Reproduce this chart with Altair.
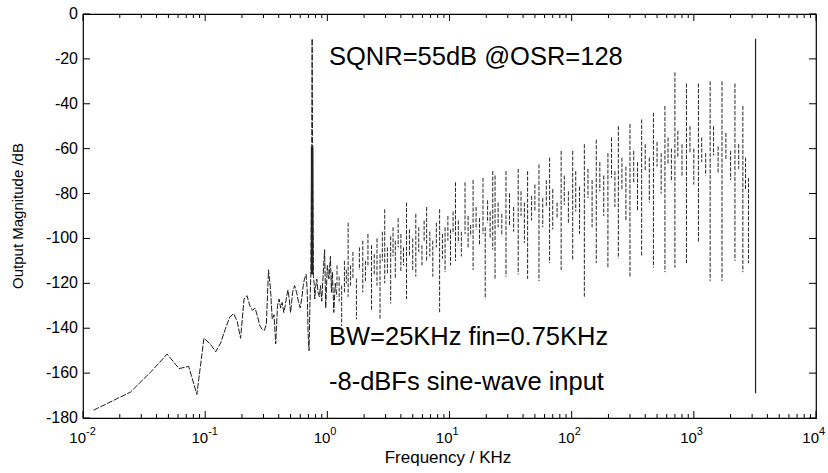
import altair as alt
import pandas as pd

# ---- low-frequency part of the spectrum (line) ----
low_freq = [0.0122, 0.0244, 0.0366, 0.0488, 0.0611, 0.0733, 0.0855, 0.0977, 0.110, 0.122,
            0.134, 0.147, 0.159, 0.171, 0.183, 0.195, 0.208, 0.220, 0.232, 0.244,
            0.256, 0.269, 0.281, 0.293, 0.305, 0.317, 0.330, 0.342, 0.354, 0.366,
            0.378, 0.391, 0.403, 0.415, 0.427, 0.440, 0.452, 0.464, 0.476, 0.488,
            0.500, 0.52, 0.54, 0.56, 0.58, 0.60, 0.62, 0.635, 0.65, 0.67,
            0.684, 0.696, 0.708, 0.72, 0.733, 0.745, 0.751, 0.757, 0.769,
            0.78, 0.79, 0.80, 0.82, 0.84, 0.86, 0.88, 0.90, 0.92, 0.95,
            0.97, 1.0, 1.03, 1.06, 1.08, 1.1, 1.13, 1.16, 1.2]
low_mag = [-176.5, -168.5, -159, -151.5, -158, -157, -169.5, -144.5, -147, -150.5,
           -146.5, -140, -135, -133.5, -137, -144.5, -127, -125.5, -130, -132,
           -131, -135, -139, -140.5, -141, -138, -114, -122, -136, -134,
           -147, -130, -127, -131, -128.5, -133, -130, -126, -123, -127,
           -133, -124, -121, -124, -128, -131, -126, -121, -118, -116,
           -123, -142, -150, -130, -116, -59, -11, -59, -117,
           -120, -127, -122, -118, -124, -126, -121, -128, -118, -105,
           -131, -112, -118, -108, -124, -115, -133, -120, -126]

# leakage skirt around the 0.75 kHz tone (drawn heavier)
tone_freq = [0.751]
tone_top = [-59]
tone_bottom = [-116]

# ---- shaped-noise region (vertical strokes: top / bottom of each) ----
stroke_freq = [1.2, 1.25, 1.31, 1.38, 1.43, 1.48, 1.55, 1.62, 1.73, 1.83,
               1.95, 2.05, 2.15, 2.3, 2.42, 2.55, 2.7, 2.82, 2.95, 3.1,
               3.3, 3.45, 3.6, 3.8, 4.0, 4.2, 4.45, 4.7, 5.0, 5.3,
               5.6, 5.95, 6.2, 6.5, 6.9, 7.3, 7.8, 8.3, 8.75, 9.2,
               9.7, 10.2, 10.7, 11.2, 11.8, 12.5, 13.4, 14.2, 14.9, 15.6,
               16.5, 17.6, 18.8, 19.6, 20.5, 21.5, 22.6, 23.6, 25, 26.8,
               29, 31, 33.5, 36.5, 38.5, 41, 43.6, 47, 50, 54,
               58, 62, 66, 70, 76, 82, 87, 94, 102, 108,
               116, 127, 136, 147, 159, 170, 183, 198, 212, 226,
               241, 258, 278, 300, 322, 346, 374, 400, 432, 467,
               500, 540, 580, 615, 655, 700, 740, 800, 870, 930,
               1000, 1090, 1160, 1250, 1360, 1450, 1580, 1700, 1830, 2000,
               2170, 2330, 2520, 2650, 2800]
stroke_top = [-112, -117, -121, -110, -114, -93, -112, -106, -118, -104,
              -101, -110, -98, -103, -107, -100, -107, -97, -87, -104,
              -99, -95, -101, -91, -98, -104, -84, -96, -100, -89,
              -95, -103, -92, -86, -97, -101, -93, -87, -98, -95,
              -90, -96, -88, -75, -92, -97, -75, -90, -94, -74,
              -86, -91, -73, -95, -83, -88, -70, -72, -84, -89,
              -70, -80, -86, -69, -79, -84, -70, -81, -76, -67,
              -82, -74, -64, -78, -84, -61, -72, -79, -61, -70,
              -77, -58, -69, -74, -56, -66, -72, -62, -55, -70,
              -50, -64, -68, -49, -61, -66, -47, -58, -64, -44,
              -57, -62, -41, -55, -60, -26, -52, -58, -31, -50,
              -60, -31, -55, -62, -30, -50, -59, -30, -53, -61,
              -31, -58, -41, -64, -73]
stroke_bottom = [-122, -128, -139, -124, -120, -126, -121, -118, -136, -114,
                 -124, -119, -112, -132, -116, -121, -136, -110, -120, -116,
                 -129, -108, -118, -104, -115, -112, -127, -108, -114, -117,
                 -106, -112, -101, -110, -108, -117, -104, -133, -109, -115,
                 -101, -112, -98, -110, -102, -108, -98, -104, -99, -114,
                 -96, -103, -98, -127, -93, -100, -105, -118, -95, -99,
                 -117, -94, -97, -116, -90, -102, -118, -92, -88, -119,
                 -95, -86, -111, -96, -91, -114, -85, -93, -110, -88,
                 -98, -126, -82, -95, -111, -79, -90, -113, -73, -86,
                 -109, -78, -92, -117, -75, -88, -108, -70, -84, -113,
                 -68, -80, -115, -67, -74, -113, -64, -72, -111, -62,
                 -76, -102, -66, -72, -119, -63, -71, -119, -65, -74,
                 -110, -69, -115, -78, -111]

# Nyquist edge line
nyq_freq = [3200]
nyq_top = [-11]
nyq_bottom = [-169]

# ---- axes ----
x_major = [0.01, 0.1, 1, 10, 100, 1000, 10000]
x_exponents = ["-2", "-1", "0", "1", "2", "3", "4"]
x_minor = [m * 10.0 ** e for e in range(-2, 4) for m in range(2, 10)]
y_ticks = [0, -20, -40, -60, -80, -100, -120, -140, -160, -180]

annotations = ["SQNR=55dB @OSR=128", "BW=25KHz fin=0.75KHz", "-8-dBFs sine-wave input"]

assert len(low_freq) == len(low_mag)
assert len(stroke_freq) == len(stroke_top) == len(stroke_bottom)

W, H = 733, 404
FONT = "Liberation Sans"

xs = alt.Scale(type="log", domain=[0.01, 10000], nice=False)
ys = alt.Scale(domain=[-180, 0], nice=False)

low_df = pd.DataFrame({"f": low_freq, "m": low_mag})
tone_df = pd.DataFrame({"f": tone_freq, "top": tone_top, "bot": tone_bottom})
stroke_df = pd.DataFrame({"f": stroke_freq, "top": stroke_top, "bot": stroke_bottom})
nyq_df = pd.DataFrame({"f": nyq_freq, "top": nyq_top, "bot": nyq_bottom})
xmaj_df = pd.DataFrame({"f": x_major, "e": x_exponents, "b": ["10"] * len(x_major)})
xmin_df = pd.DataFrame({"f": x_minor})
yt_df = pd.DataFrame({"m": y_ticks, "t": [str(v) for v in y_ticks]})

X = lambda field="f": alt.X(f"{field}:Q", scale=xs, axis=None)
Y = lambda field: alt.Y(f"{field}:Q", scale=ys, axis=None)

line = alt.Chart(low_df).mark_line(color="#1e1e1e", strokeWidth=1, strokeDash=[6, 1.5], clip=True).encode(
    x=X(), y=Y("m"))

tone = alt.Chart(tone_df).mark_rule(color="#222222", strokeWidth=2.6).encode(
    x=X(), y=Y("top"), y2="bot:Q")

strokes = alt.Chart(stroke_df).mark_rule(color="#262626", strokeWidth=1, strokeDash=[4, 1.5], clip=True).encode(
    x=X(), y=Y("top"), y2="bot:Q")

nyq = alt.Chart(nyq_df).mark_rule(color="#222222", strokeWidth=1.2).encode(
    x=X(), y=Y("top"), y2="bot:Q")

def xtick(df, y0, y1):
    return alt.Chart(df).mark_rule(color="black", strokeWidth=1).encode(
        x=X(), y=alt.value(y0), y2=alt.value(y1))

def ytick(x0, x1):
    return alt.Chart(yt_df).mark_rule(color="black", strokeWidth=1).encode(
        y=Y("m"), x=alt.value(x0), x2=alt.value(x1))

ticks = [xtick(xmaj_df, H, H - 7), xtick(xmin_df, H, H - 4),
         xtick(xmaj_df, 0, 7), xtick(xmin_df, 0, 4),
         ytick(0, 7), ytick(W, W - 7)]

ylabels = alt.Chart(yt_df).mark_text(align="right", baseline="middle", fontSize=16, font=FONT,
                                     color="black").encode(
    y=Y("m"), x=alt.value(-5), text="t:N")

lab10 = alt.Chart(xmaj_df).mark_text(align="right", baseline="alphabetic", fontSize=15, font=FONT,
                                     color="black", dx=3).encode(
    x=X(), y=alt.value(429), text="b:N")
labexp = alt.Chart(xmaj_df).mark_text(align="left", baseline="alphabetic", fontSize=11, font=FONT,
                                      color="black", dx=3).encode(
    x=X(), y=alt.value(421), text="e:N")

def label(txt, x, y, size, angle=0, align="left", baseline="alphabetic"):
    return alt.Chart(pd.DataFrame({"t": [txt]})).mark_text(
        align=align, baseline=baseline, fontSize=size, font=FONT, color="black", angle=angle
    ).encode(x=alt.value(x), y=alt.value(y), text="t:N")

texts = [
    label(annotations[0], 246, 51, 25.5),
    label(annotations[1], 246, 331, 25.5),
    label(annotations[2], 246, 376, 25.5),
    label("Frequency / KHz", 365, 449, 17, align="center"),
    label("Output Magnitude /dB", -65, 202, 15, angle=270, align="center", baseline="middle"),
]

chart = alt.layer(line, tone, strokes, nyq, *ticks, ylabels, lab10, labexp, *texts).properties(
    width=W, height=H,
    autosize=alt.AutoSizeParams(type="none"),
    padding={"left": 83, "top": 14, "right": 12, "bottom": 55},
    background="white",
).configure_view(stroke="black", strokeWidth=1.2)

chart.save("out.html", embed_options={"renderer": "svg", "actions": False})
